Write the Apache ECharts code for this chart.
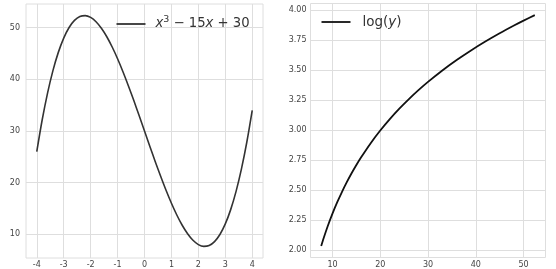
<!DOCTYPE html>
<html><head><meta charset="utf-8">
<script src="https://cdn.jsdelivr.net/npm/echarts@6/dist/echarts.min.js"></script>
<style>html,body{margin:0;padding:0;background:#fff}#c{width:556px;height:269px}</style>
</head><body><div id="c"></div>
<script>
// Left panel: x vs y = x^3 - 15x + 30
const cubicX = [-4,-3.8,-3.6,-3.4,-3.2,-3,-2.8,-2.6,-2.4,-2.2,-2,-1.8,-1.6,-1.4,-1.2,-1,-0.8,-0.6,-0.4,-0.2,0,0.2,0.4,0.6,0.8,1,1.2,1.4,1.6,1.8,2,2.2,2.4,2.6,2.8,3,3.2,3.4,3.6,3.8,4];
const cubicY = [26,32.13,37.34,41.7,45.23,48,50.05,51.42,52.18,52.35,52,51.17,49.9,48.26,46.27,44,41.49,38.78,35.94,32.99,30,27.01,24.06,21.22,18.51,16,13.73,11.74,10.1,8.83,8,7.65,7.82,8.58,9.95,12,14.77,18.3,22.66,27.87,34];
// Right panel: y vs log(y)
const logX = [7.64,8,9,10,11,12,13,14,15,16,18,20,22,24,26,28,30,33,36,39,42,45,48,50,52.36];
const logY = [2.0334,2.0794,2.1972,2.3026,2.3979,2.4849,2.5649,2.6391,2.7081,2.7726,2.8904,2.9957,3.091,3.1781,3.2581,3.3322,3.4012,3.4965,3.5835,3.6636,3.7377,3.8067,3.8712,3.912,3.9581];
const leftXTicks = [-4,-3,-2,-1,0,1,2,3,4];
const leftYTicks = [10,20,30,40,50];
const rightXTicks = [10,20,30,40,50];
const rightYTicks = [2,2.25,2.5,2.75,3,3.25,3.5,3.75,4];

const gridCol = '#dedede';
const labelStyle = {color:'#444', fontSize:8, fontFamily:'DejaVu Sans'};
function axis(gridIndex, min, max, ticks, margin, fmt){
  return {
    type:'value', gridIndex, min, max,
    axisLine:{show:false}, axisTick:{show:false, customValues:ticks},
    axisLabel:Object.assign({customValues:ticks, margin, formatter:fmt||(v=>String(v))}, labelStyle),
    splitLine:{show:true, lineStyle:{color:gridCol, width:1}}
  };
}
const FS = 13.2;
const chart = echarts.init(document.getElementById('c'), null, {renderer:'canvas'});
chart.setOption({
  animation:false,
  backgroundColor:'#fff',
  grid:[
    {left:26, top:4, width:237, height:254, show:true, borderColor:gridCol, borderWidth:1},
    {left:310.5, top:3.5, width:235, height:254, show:true, borderColor:gridCol, borderWidth:1}
  ],
  xAxis:[
    axis(0,-4.4,4.4,leftXTicks,3),
    axis(1,5.4,54.6,rightXTicks,3)
  ],
  yAxis:[
    axis(0,5.4,54.6,leftYTicks,6),
    axis(1,1.937,4.055,rightYTicks,4,v=>v.toFixed(2))
  ],
  legend:[
    {data:[{name:'cubic', icon:'rect'}], left:116.5, top:15, padding:0, itemWidth:29, itemHeight:1.8, itemGap:0,
     textStyle:{padding:[0,0,0,5], color:'#333', fontSize:FS, fontFamily:'DejaVu Sans',
       rich:{i:{fontStyle:'italic', fontSize:FS, color:'#333', fontFamily:'DejaVu Sans'},
             s:{fontSize:9.5, color:'#333', fontFamily:'DejaVu Sans', padding:[0,0,8,0]},
             n:{fontSize:FS, color:'#333', fontFamily:'DejaVu Sans'}}},
     formatter:()=>'{i|x}{s|3}{n| − 15}{i|x}{n| + 30}'},
    {data:[{name:'log', icon:'rect'}], left:321.5, top:15, padding:0, itemWidth:29, itemHeight:1.8, itemGap:0,
     textStyle:{padding:[0,0,0,7], color:'#333', fontSize:FS+0.3, fontFamily:'DejaVu Sans',
       rich:{i:{fontStyle:'italic', fontSize:FS+0.3, color:'#333', fontFamily:'DejaVu Sans'},
             n:{fontSize:FS+0.3, color:'#333', fontFamily:'DejaVu Sans'}}},
     formatter:()=>'{n|log(}{i|y}{n|)}'}
  ],
  series:[
    {name:'cubic', type:'line', xAxisIndex:0, yAxisIndex:0, showSymbol:false, symbol:'none', smooth:0.3,
     data:cubicX.map((x,i)=>[x,cubicY[i]]), lineStyle:{color:'#333', width:1.6}, itemStyle:{color:'#333'}},
    {name:'log', type:'line', xAxisIndex:1, yAxisIndex:1, showSymbol:false, symbol:'none', smooth:0.3,
     data:logX.map((x,i)=>[x,logY[i]]), lineStyle:{color:'#111', width:1.8}, itemStyle:{color:'#111'}}
  ]
});
</script></body></html>
